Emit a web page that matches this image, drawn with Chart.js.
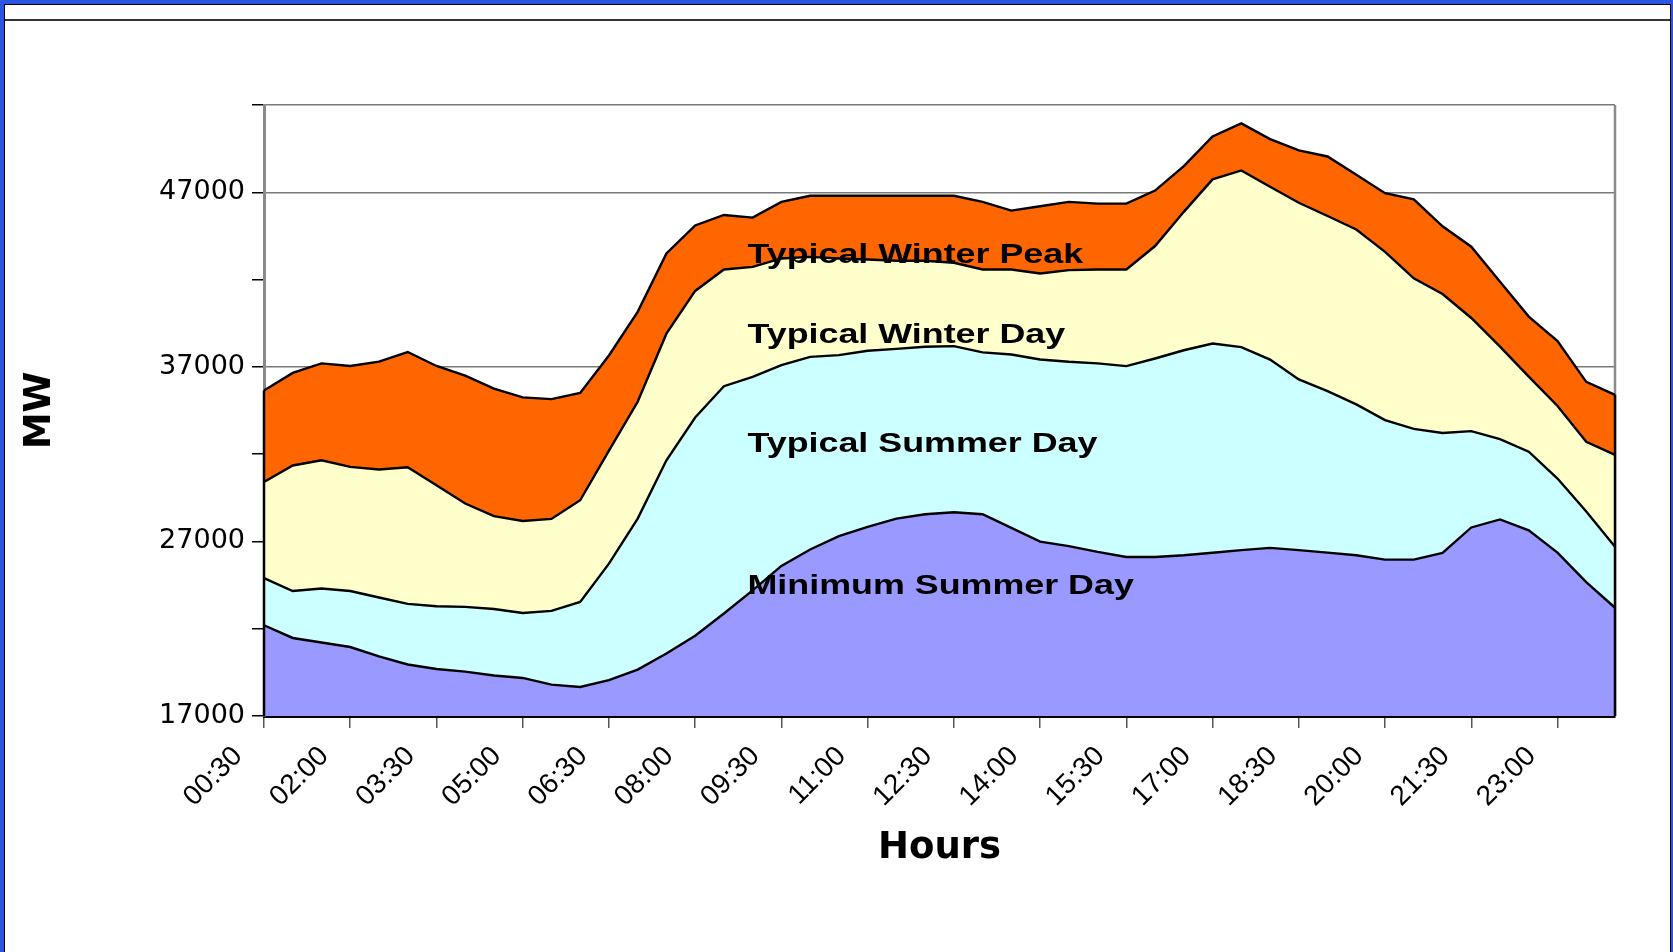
<!DOCTYPE html>
<html>
<head>
<meta charset="utf-8">
<script src="https://cdn.jsdelivr.net/npm/chart.js@4/dist/chart.umd.min.js"></script>
<style>
  html, body { margin: 0; padding: 0; }
  body { width: 1673px; height: 952px; background: #2a55e0; overflow: hidden; position: relative; }
  #sheet { position: absolute; left: 4px; top: 4px; width: 1667px; height: 948px; background: #fff;
           border: 1px solid #000; border-bottom: none; box-sizing: border-box; }
  #bar { position: absolute; left: 0; right: 0; top: 14px; height: 2px; background: #333; }
  #wrap { position: absolute; left: 0; top: 0; width: 1673px; height: 952px; }
</style>
</head>
<body>
<div id="sheet"><div id="bar"></div></div>
<div id="wrap"><canvas id="load"></canvas></div>
<script>
// half-hour steps, 00:30 .. 24:00
const hours = ['00:30','01:00','01:30','02:00','02:30','03:00','03:30','04:00','04:30','05:00','05:30','06:00',
  '06:30','07:00','07:30','08:00','08:30','09:00','09:30','10:00','10:30','11:00','11:30','12:00',
  '12:30','13:00','13:30','14:00','14:30','15:00','15:30','16:00','16:30','17:00','17:30','18:00',
  '18:30','19:00','19:30','20:00','20:30','21:00','21:30','22:00','22:30','23:00','23:30','24:00']

const winterPeak = [35650, 36650, 37200, 37050, 37300, 37850, 37050, 36500, 35750, 35250, 35150, 35500,
  37650, 40150, 43500, 45100, 45700, 45550, 46450, 46800, 46800, 46800, 46800, 46800,
  46800, 46450, 45950, 46200, 46450, 46350, 46350, 47100, 48500, 50200, 50950, 50050,
  49400, 49050, 48000, 46950, 46600, 45050, 43880, 41870, 39880, 38480, 36140, 35400]

const winterDay = [30400, 31350, 31650, 31270, 31120, 31250, 30220, 29170, 28450, 28170, 28290, 29360,
  32200, 35000, 38900, 41350, 42580, 42730, 43210, 43300, 43210, 43150, 43080, 43080,
  42960, 42580, 42580, 42350, 42540, 42580, 42580, 43920, 45880, 47740, 48250, 47320,
  46400, 45640, 44870, 43590, 42070, 41170, 39800, 38160, 36440, 34760, 32710, 31960]

const summerDay = [24900, 24160, 24300, 24160, 23790, 23420, 23290, 23250, 23130, 22900, 23020, 23530,
  25730, 28310, 31650, 34100, 35890, 36430, 37100, 37570, 37670, 37920, 38030, 38150,
  38190, 37830, 37710, 37420, 37290, 37200, 37040, 37480, 37950, 38340, 38130, 37420,
  36280, 35610, 34850, 33950, 33450, 33210, 33320, 32860, 32140, 30600, 28710, 26690]

const minSummer = [22200, 21470, 21210, 20950, 20420, 19950, 19690, 19540, 19320, 19180, 18800, 18660,
  19050, 19660, 20580, 21600, 22870, 24200, 25600, 26540, 27300, 27830, 28310, 28560,
  28670, 28560, 27780, 26990, 26730, 26400, 26110, 26110, 26210, 26350, 26500, 26630,
  26500, 26360, 26210, 25960, 25960, 26340, 27800, 28260, 27640, 26360, 24670, 23200]

const yLabels = [17000, 27000, 37000, 47000]

// top of the list is drawn in front
const series = [
  { label: 'Minimum Summer Day', data: minSummer, color: '#9999FF' },
  { label: 'Typical Summer Day', data: summerDay, color: '#CCFFFF' },
  { label: 'Typical Winter Day', data: winterDay, color: '#FFFFCC' },
  { label: 'Typical Winter Peak', data: winterPeak, color: '#FF6600' }
]

// where each area gets its name written (category index, MW of the baseline)
const noteAt = [{ i: 16.82, v: 23960 }, { i: 16.82, v: 32130 }, { i: 16.82, v: 38340 }, { i: 16.82, v: 42960 }]

const frame = {
  id: 'frame',
  beforeDatasetsDraw(chart) {
    const { ctx, chartArea: a } = chart
    ctx.save()
    ctx.strokeStyle = '#8a8a8a'
    ctx.lineWidth = 2.5
    ctx.beginPath()
    ctx.moveTo(a.right, a.top)
    ctx.lineTo(a.right, a.bottom)
    ctx.stroke()
    ctx.restore()
  },
  afterDatasetsDraw(chart) {
    const { ctx, chartArea: a, scales: { y } } = chart
    const first = Math.max(...series.map(s => s.data[0]))
    const last = Math.max(...series.map(s => s.data[s.data.length - 1]))
    ctx.save()
    ctx.strokeStyle = '#000'
    ctx.lineWidth = 2.5
    ctx.beginPath()
    ctx.moveTo(a.left, y.getPixelForValue(first))
    ctx.lineTo(a.left, a.bottom)
    ctx.moveTo(a.right, y.getPixelForValue(last))
    ctx.lineTo(a.right, a.bottom)
    ctx.stroke()

    // area names
    ctx.fillStyle = '#000'
    ctx.font = 'bold 28px "Liberation Sans", Arial, sans-serif'
    ctx.textBaseline = 'alphabetic'
    ctx.textAlign = 'left'
    series.forEach((s, k) => {
      const px = chart.scales.x.getPixelForValue(noteAt[k].i)
      const py = y.getPixelForValue(noteAt[k].v)
      ctx.save()
      ctx.translate(px, py)
      ctx.scale(1.28, 1)
      ctx.fillText(s.label, 0, 0)
      ctx.restore()
    })
    ctx.restore()
  }
}

new Chart(document.getElementById('load'), {
  type: 'line',
  data: {
    labels: hours,
    datasets: series.map(s => ({
      label: s.label,
      data: s.data,
      backgroundColor: s.color,
      borderColor: '#000',
      borderWidth: 2.4,
      fill: 'start',
      tension: 0,
      pointRadius: 0
    }))
  },
  options: {
    responsive: true, maintainAspectRatio: false, animation: false,
    layout: { padding: { top: 105, right: 58, left: 0, bottom: 0 } },
    plugins: { legend: { display: false }, tooltip: { enabled: false } },
    scales: {
      x: {
        z: 1,
        offset: false,
        afterFit: s => { s.height = 236 },
        grid: { drawOnChartArea: false, tickLength: 12, lineWidth: 1.5,
          tickColor: c => c.index % 3 === 0 ? '#555' : 'rgba(0,0,0,0)' },
        border: { color: '#000', width: 3 },
        ticks: {
          autoSkip: false, minRotation: 45, maxRotation: 45, padding: 12, labelOffset: -26, color: '#000',
          font: { family: '"Liberation Sans", Arial, sans-serif', size: 28 },
          callback: (v, i) => i % 3 === 0 ? hours[i] : ''
        },
        title: { display: true, text: 'Hours', color: '#000', padding: { top: 0, bottom: 81 },
          font: { family: '"DejaVu Sans", sans-serif', size: 37, weight: 'bold' } }
      },
      y: {
        min: 17000, max: 52000,
        afterFit: s => { s.width = 264 },
        grid: {
          tickLength: 12, lineWidth: 1.5, tickColor: '#000',
          color: c => (c.tick && (yLabels.includes(c.tick.value) || c.tick.value === 52000)) ? '#7a7a7a' : 'rgba(0,0,0,0)'
        },
        border: { color: '#8a8a8a', width: 3 },
        ticks: {
          stepSize: 5000, padding: 7, color: '#000',
          font: { family: '"DejaVu Sans", sans-serif', size: 27 },
          callback: v => yLabels.includes(v) ? String(v) : ''
        },
        title: { display: true, text: 'MW', color: '#000', padding: { top: 18, bottom: 0 },
          font: { family: '"DejaVu Sans", sans-serif', size: 37, weight: 'bold' } }
      }
    }
  },
  plugins: [frame]
})
</script>
</body>
</html>
